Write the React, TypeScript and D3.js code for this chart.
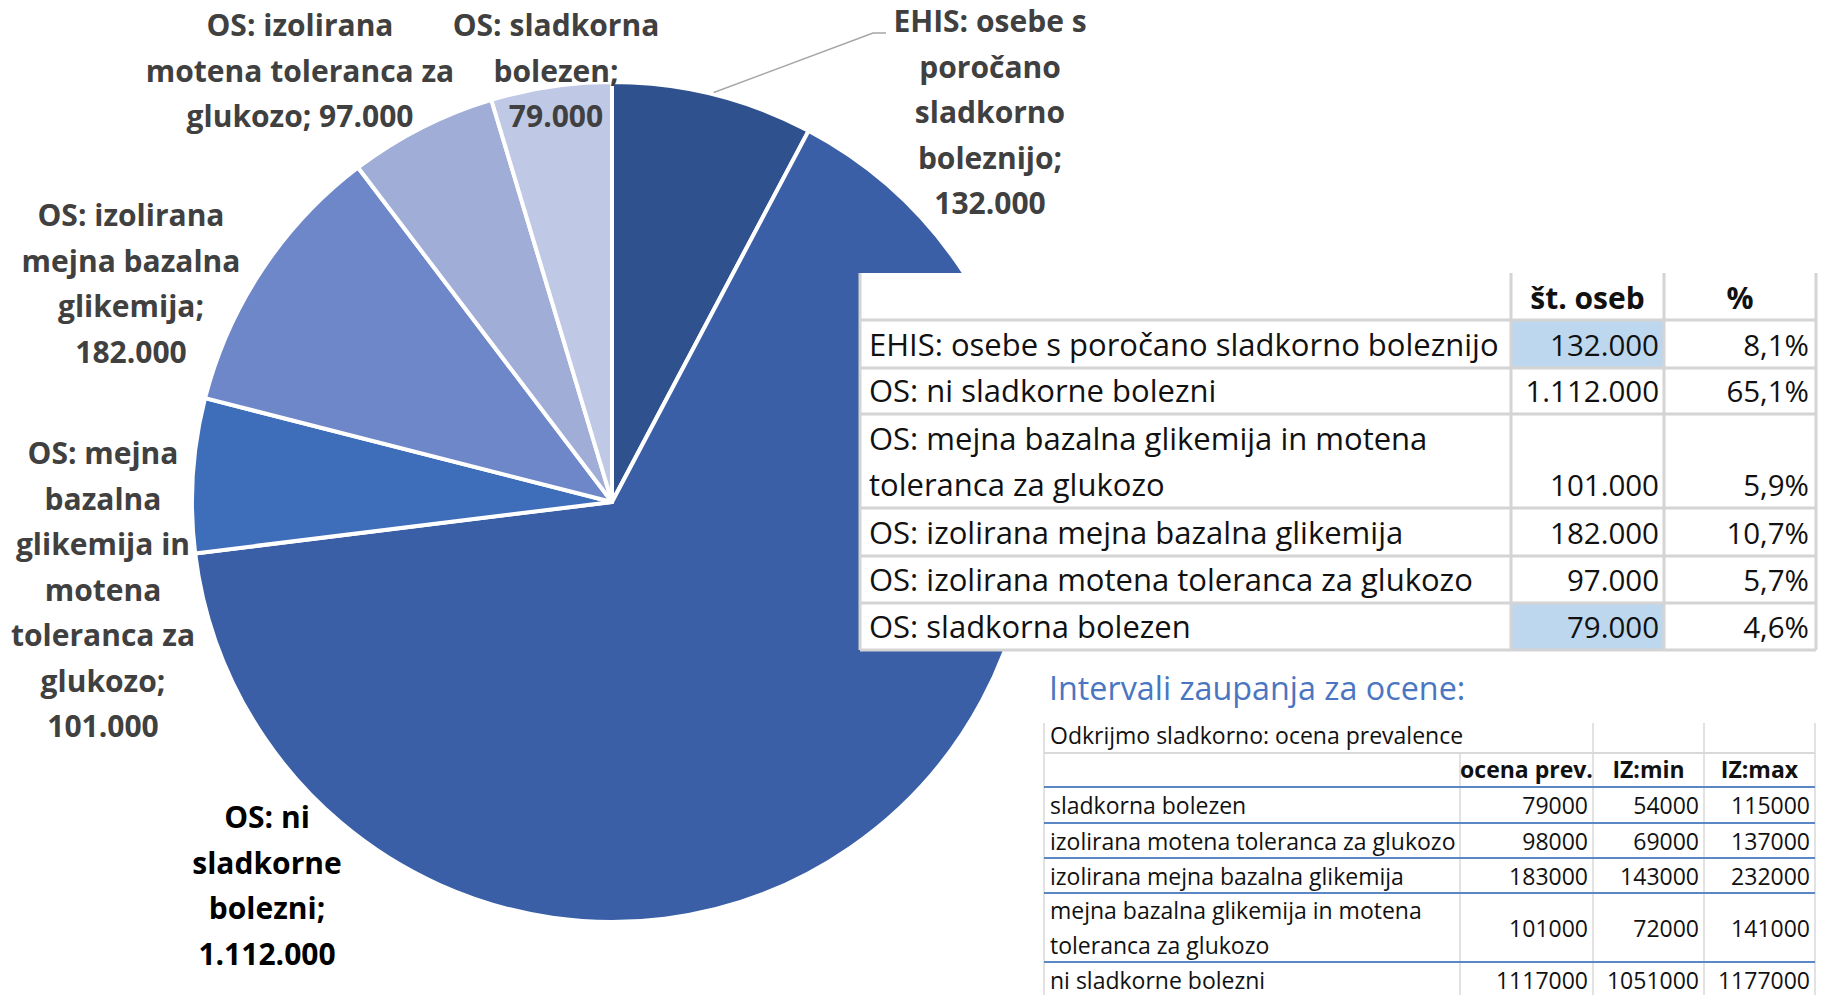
import React from 'react';
import * as d3 from 'd3';

// pie data
const categories = [
  'EHIS: osebe s poročano sladkorno boleznijo',
  'OS: ni sladkorne bolezni',
  'OS: mejna bazalna glikemija in motena toleranca za glukozo',
  'OS: izolirana mejna bazalna glikemija',
  'OS: izolirana motena toleranca za glukozo',
  'OS: sladkorna bolezen',
];
const values = [132000, 1112000, 101000, 182000, 97000, 79000];
const percents = ['8,1%', '65,1%', '5,9%', '10,7%', '5,7%', '4,6%'];
const highlighted = [true, false, false, false, false, true];
const sliceColors = ['#2F528F', '#3A5FA6', '#3E6DBA', '#6E87C8', '#9FADD7', '#BFC8E4'];

// how each pie label wraps, {v} is the value
const labelWrap = [
  ['EHIS: osebe s', 'poročano', 'sladkorno', 'boleznijo;', '{v}'],
  ['OS: ni', 'sladkorne', 'bolezni;', '{v}'],
  ['OS: mejna', 'bazalna', 'glikemija in', 'motena', 'toleranca za', 'glukozo;', '{v}'],
  ['OS: izolirana', 'mejna bazalna', 'glikemija;', '{v}'],
  ['OS: izolirana', 'motena toleranca za', 'glukozo; {v}'],
  ['OS: sladkorna', 'bolezen;', '{v}'],
];
// table rows (long one wraps)
const tableRowLines = [
  [categories[0]],
  [categories[1]],
  ['OS: mejna bazalna glikemija in motena', 'toleranca za glukozo'],
  [categories[3]],
  [categories[4]],
  [categories[5]],
];
const tableHeaders = ['št. oseb', '%'];

// confidence interval table
const ciTitle = 'Intervali zaupanja za ocene:';
const ciCaption = 'Odkrijmo sladkorno: ocena prevalence';
const ciHeaders = ['ocena prev.', 'IZ:min', 'IZ:max'];
const ciRows = [
  ['sladkorna bolezen'],
  ['izolirana motena toleranca za glukozo'],
  ['izolirana mejna bazalna glikemija'],
  ['mejna bazalna glikemija in motena', 'toleranca za glukozo'],
  ['ni sladkorne bolezni'],
];
const ciEstimate = [79000, 98000, 183000, 101000, 1117000];
const ciMin = [54000, 69000, 143000, 72000, 1051000];
const ciMax = [115000, 137000, 232000, 141000, 1177000];

const W = 1823;
const H = 995;
const FONT = "'Open Sans', 'Noto Sans', sans-serif";

const si = d3.formatLocale({ decimal: ',', thousands: '.', grouping: [3], currency: ['', ''] });
const fmt = si.format(',d');

export default function App() {
  const cx = 612;
  const cy = 502;
  const R = 420;

  const pie = d3.pie<number>().sort(null).value((d) => d);
  const arcs = pie(values);
  const arc = d3.arc<d3.PieArcDatum<number>>().innerRadius(0).outerRadius(R);

  // label anchors: first baseline of each label
  const labelAnchors = [
    [990, 32],
    [267, 828],
    [103, 464],
    [131, 226],
    [300, 36],
    [556, 36],
  ];
  const lineH = 45.5;

  // EHIS leader line
  const a0 = (arcs[0].startAngle + arcs[0].endAngle) / 2;
  const lp = [Math.sin(a0) * (R + 2), -Math.cos(a0) * (R + 2)];
  const leader = d3.line()([
    [cx + lp[0], cy + lp[1]],
    [873, 33],
    [886, 33],
  ]);

  // table 1 layout
  const t1x = [860, 1511, 1664, 1816];
  const t1y = [273, 320, 368, 414, 508, 556, 603, 650];
  const t1grid = '#D4D4D4';

  // table 2 layout
  const t2x = [1044, 1460, 1593, 1704, 1815];
  const t2y = [723, 753, 787, 823, 858, 893, 962, 998];
  const t2grid = '#D9D9D9';
  const t2blue = '#5B87C6';

  return (
    <svg width={W} height={H} style={{ position: 'absolute', left: 0, top: 0, background: '#fff' }} fontFamily={FONT}>
      <g transform={`translate(${cx},${cy})`}>
        {arcs.map((d, i) => (
          <path key={i} d={arc(d) || ''} fill={sliceColors[i]} stroke="#fff" strokeWidth={4} strokeLinejoin="round" />
        ))}
      </g>
      <path d={leader || ''} fill="none" stroke="#A6A6A6" strokeWidth={1.5} />

      {labelWrap.map((lines, i) => (
        <text
          key={i}
          x={labelAnchors[i][0]}
          y={labelAnchors[i][1]}
          textAnchor="middle"
          fontSize={30}
          fontWeight={700}
          fill={i === 1 ? '#000' : '#404040'}
        >
          {lines.map((ln, j) => (
            <tspan key={j} x={labelAnchors[i][0]} y={labelAnchors[i][1] + j * lineH}>
              {ln.replace('{v}', fmt(values[i]))}
            </tspan>
          ))}
        </text>
      ))}

      {/* table 1 */}
      <rect x={t1x[0]} y={t1y[0]} width={t1x[3] - t1x[0]} height={t1y[7] - t1y[0]} fill="#fff" />
      {highlighted.map((h, i) =>
        h ? (
          <rect key={i} x={t1x[1]} y={t1y[i + 1]} width={t1x[2] - t1x[1]} height={t1y[i + 2] - t1y[i + 1]} fill="#BDD7EE" />
        ) : null
      )}
      {t1y.slice(1).map((y, i) => (
        <line key={i} x1={t1x[0]} x2={t1x[3]} y1={y} y2={y} stroke={t1grid} strokeWidth={3} />
      ))}
      {t1x.map((x, i) => (
        <line key={i} x1={x} x2={x} y1={t1y[0]} y2={t1y[7]} stroke={t1grid} strokeWidth={3} />
      ))}
      {tableHeaders.map((h, i) => (
        <text key={i} x={(t1x[i + 1] + t1x[i + 2]) / 2} y={t1y[1] - 11} textAnchor="middle" fontSize={30} fontWeight={700} fill="#111">
          {h}
        </text>
      ))}
      {tableRowLines.map((lines, i) => {
        const bottom = t1y[i + 2] - 12;
        return (
          <g key={i} fill="#111">
            {lines.map((ln, j) => (
              <text key={j} x={t1x[0] + 9} y={bottom - (lines.length - 1 - j) * 46} fontSize={31}>
                {ln}
              </text>
            ))}
            <text x={t1x[2] - 5} y={bottom} textAnchor="end" fontSize={29.5}>
              {fmt(values[i])}
            </text>
            <text x={t1x[3] - 7} y={bottom} textAnchor="end" fontSize={29.5}>
              {percents[i]}
            </text>
          </g>
        );
      })}

      {/* table 2 */}
      <text x={1049} y={700} fontSize={32.3} fill="#4A76C1">
        {ciTitle}
      </text>
      <line x1={t2x[0]} x2={t2x[4]} y1={t2y[1]} y2={t2y[1]} stroke={t2grid} strokeWidth={2} />
      {t2x.map((x, i) => (
        <line key={i} x1={x} x2={x} y1={i === 1 ? t2y[1] : t2y[0]} y2={H} stroke={t2grid} strokeWidth={1.5} />
      ))}
      {t2y.slice(2, 7).map((y, i) => (
        <line key={i} x1={t2x[0]} x2={t2x[4]} y1={y} y2={y} stroke={t2blue} strokeWidth={2} />
      ))}
      <text x={t2x[0] + 6} y={t2y[1] - 9} fontSize={23} fill="#111">
        {ciCaption}
      </text>
      {ciHeaders.map((h, i) => (
        <text key={i} x={(t2x[i + 1] + t2x[i + 2]) / 2} y={t2y[2] - 9} textAnchor="middle" fontSize={23} fontWeight={700} fill="#111">
          {h}
        </text>
      ))}
      {ciRows.map((lines, i) => {
        const top = t2y[i + 2];
        const bot = t2y[i + 3];
        const mid = (top + bot) / 2 + 9;
        const cols = [ciEstimate[i], ciMin[i], ciMax[i]];
        return (
          <g key={i} fontSize={23} fill="#111">
            {lines.map((ln, j) => (
              <text key={j} x={t2x[0] + 6} y={mid + (j - (lines.length - 1) / 2) * 35}>
                {ln}
              </text>
            ))}
            {cols.map((v, k) => (
              <text key={k} x={t2x[k + 2] - 5} y={mid} textAnchor="end">
                {v}
              </text>
            ))}
          </g>
        );
      })}
    </svg>
  );
}
